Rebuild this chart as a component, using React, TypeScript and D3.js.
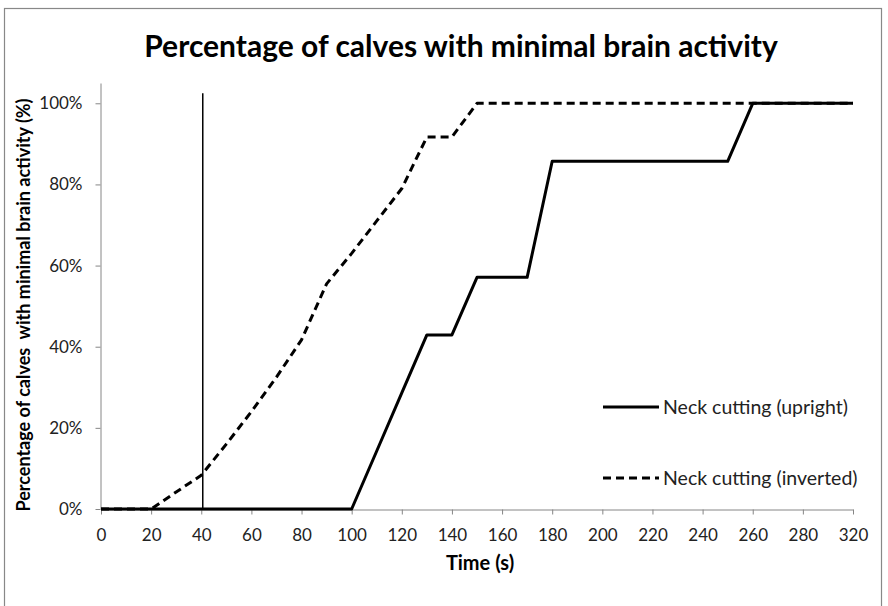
import { useEffect, useRef } from "react";
import * as d3 from "d3";

// Time categories of the Excel line chart (290 and 310 are not in the sheet)
const times = [
  0, 10, 20, 30, 40, 50, 60, 70, 80, 90, 100, 110, 120, 130, 140, 150, 160,
  170, 180, 190, 200, 210, 220, 230, 240, 250, 260, 270, 280, 300, 320,
];

// % of calves, neck cutting upright
const upright = [
  0, 0, 0, 0, 0, 0, 0, 0, 0, 0, 0, 14.3, 28.6, 42.9, 42.9, 57.1, 57.1, 57.1,
  85.7, 85.7, 85.7, 85.7, 85.7, 85.7, 85.7, 85.7, 100, 100, 100, 100, 100,
];

// % of calves, neck cutting inverted
const inverted = [
  0, 0, 0, 4.2, 8.3, 16, 24, 32.5, 41.7, 55.5, 63, 71, 79, 91.7, 91.7, 100,
  100, 100, 100, 100, 100, 100, 100, 100, 100, 100, 100, 100, 100, 100, 100,
];

const xTickLabels = [
  "0", "20", "40", "60", "80", "100", "120", "140", "160", "180", "200",
  "220", "240", "260", "280", "320",
];
const yTicks = [0, 20, 40, 60, 80, 100];

// thin vertical marker line at 40 s
const markerTime = 40;
const markerTop = 102.5;

const seriesNames = ["Neck cutting (upright)", "Neck cutting (inverted)"];

const FONT = "Lato, 'Open Sans', sans-serif";

export default function App() {
  const ref = useRef<SVGSVGElement>(null);

  useEffect(() => {
    const H = 606;
    const svg = d3.select(ref.current);
    svg.selectAll("*").remove();

    const x = d3
      .scalePoint<string>()
      .domain(times.map(String))
      .range([101, 853]);
    const y = d3.scaleLinear().domain([0, 105]).range([509, 83]);

    // outer chart frame
    svg
      .append("rect")
      .attr("x", 4.5)
      .attr("y", 8.5)
      .attr("width", 877)
      .attr("height", H)
      .attr("fill", "#fff")
      .attr("stroke", "#888")
      .attr("stroke-width", 1.2);

    // title
    svg
      .append("text")
      .attr("x", 461)
      .attr("y", 57)
      .attr("text-anchor", "middle")
      .attr("font-family", FONT)
      .attr("font-weight", "bold")
      .attr("font-size", 30)
      .attr("fill", "#000")
      .text("Percentage of calves with minimal brain activity");

    // y axis
    const yAxis = svg
      .append("g")
      .attr("transform", "translate(100.5,0)")
      .call(
        d3
          .axisLeft(y)
          .tickValues(yTicks)
          .tickSizeInner(5)
          .tickSizeOuter(0)
          .tickPadding(13)
          .tickFormat((d) => `${d}%`)
      );
    yAxis.select(".domain").attr("stroke", "#868686");
    yAxis.selectAll(".tick line").attr("stroke", "#868686");
    yAxis
      .selectAll(".tick text")
      .attr("font-family", FONT)
      .attr("font-size", 17)
      .attr("fill", "#222");

    // x axis
    const xAxis = svg
      .append("g")
      .attr("transform", `translate(0,${y(0) + 0.5})`)
      .call(
        d3
          .axisBottom(x)
          .tickValues(xTickLabels)
          .tickSizeInner(5)
          .tickSizeOuter(0)
          .tickPadding(14)
      );
    xAxis.select(".domain").attr("stroke", "#868686");
    xAxis.selectAll(".tick line").attr("stroke", "#868686");
    xAxis
      .selectAll(".tick text")
      .attr("font-family", FONT)
      .attr("font-size", 17)
      .attr("fill", "#222");

    // axis titles
    svg
      .append("text")
      .attr("transform", "translate(30,305) rotate(-90)")
      .attr("text-anchor", "middle")
      .attr("font-family", FONT)
      .attr("font-weight", "bold")
      .attr("font-size", 18)
      .text("Percentage of calves  with minimal brain activity (%)")
      .style("white-space", "pre");
    svg
      .append("text")
      .attr("x", 480)
      .attr("y", 570)
      .attr("text-anchor", "middle")
      .attr("font-family", FONT)
      .attr("font-weight", "bold")
      .attr("font-size", 20)
      .text("Time (s)");

    // vertical marker
    svg
      .append("line")
      .attr("x1", x(String(markerTime))! + 1.5)
      .attr("x2", x(String(markerTime))! + 1.5)
      .attr("y1", y(0))
      .attr("y2", y(markerTop))
      .attr("stroke", "#000")
      .attr("stroke-width", 1.5);

    const line = d3
      .line<number>()
      .x((_, i) => x(String(times[i]))!)
      .y((d) => y(d));

    svg
      .append("path")
      .attr("d", line(inverted))
      .attr("fill", "none")
      .attr("stroke", "#000")
      .attr("stroke-width", 3)
      .attr("stroke-dasharray", "8,5")
      .attr("stroke-linejoin", "round");

    svg
      .append("path")
      .attr("d", line(upright))
      .attr("fill", "none")
      .attr("stroke", "#000")
      .attr("stroke-width", 3)
      .attr("stroke-linejoin", "round");

    // legend
    const legend = svg
      .append("g")
      .selectAll("g")
      .data(seriesNames)
      .join("g")
      .attr("transform", (_, i) => `translate(603,${407 + i * 71})`);
    legend
      .append("line")
      .attr("x1", 0)
      .attr("x2", 56)
      .attr("stroke", "#000")
      .attr("stroke-width", 3)
      .attr("stroke-dasharray", (_, i) => (i === 1 ? "8,5" : null));
    legend
      .append("text")
      .attr("x", 60)
      .attr("y", 6.5)
      .attr("font-family", FONT)
      .attr("font-size", 19.5)
      .attr("fill", "#222")
      .text((d) => d);
  }, []);

  return (
    <div style={{ position: "absolute", left: 0, top: 0 }}>
      <svg ref={ref} width={888} height={606} style={{ display: "block" }} />
    </div>
  );
}
